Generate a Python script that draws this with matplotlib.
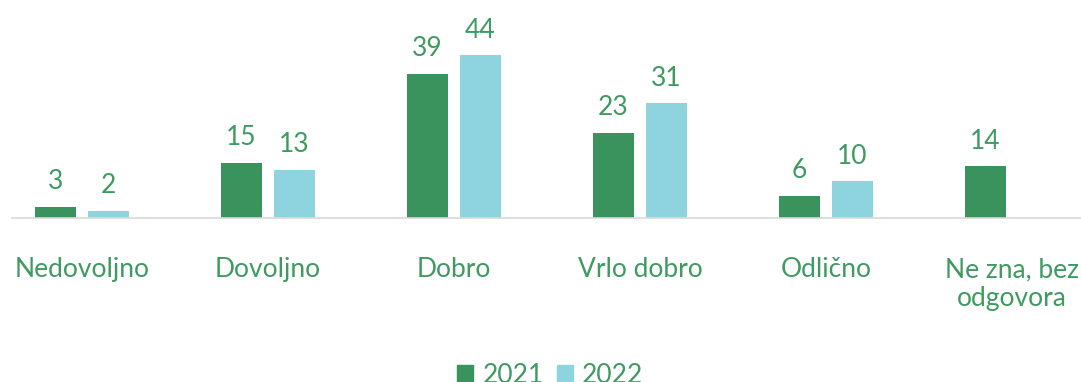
import numpy as np
import matplotlib.pyplot as plt
from matplotlib.patches import Patch

categories = ['Nedovoljno', 'Dovoljno', 'Dobro', 'Vrlo dobro', 'Odlično', 'Ne zna, bez\nodgovora']
years = ['2021', '2022']
values_2021 = [3, 15, 39, 23, 6, 14]
values_2022 = [2, 13, 44, 31, 10, None]

green = '#3a935c'
light = '#8dd4de'
text_green = '#3e9a60'

plt.rcParams['font.family'] = ['Lato', 'DejaVu Sans']

fig = plt.figure(figsize=(10.81, 3.82), dpi=100)
ax = fig.add_axes([12 / 1081, 164 / 382, 1 - 12 / 1081, 218 / 382])

x = np.arange(len(categories))
w = 0.22
off = 0.142

for i, (v1, v2) in enumerate(zip(values_2021, values_2022)):
    ax.bar(x[i] - off, v1, w, color=green)
    ax.annotate(str(v1), (x[i] - off, v1), xytext=(0, 9), textcoords='offset points',
                ha='center', va='bottom', fontsize=19, color=text_green)
    if v2 is None:
        continue
    ax.bar(x[i] + off, v2, w, color=light)
    ax.annotate(str(v2), (x[i] + off, v2), xytext=(0, 9), textcoords='offset points',
                ha='center', va='bottom', fontsize=19, color=text_green)

ax.set_xlim(-70 / 186, 999 / 186)
ax.set_ylim(0, 218 / 3.7)

ax.set_xticks(x)
ax.set_xticklabels(categories, fontsize=19, color=text_green, linespacing=1.2)
ax.tick_params(axis='x', length=0, pad=28)
ax.set_yticks([])
for s in ['top', 'right', 'left']:
    ax.spines[s].set_visible(False)
ax.spines['bottom'].set_color('#d9d9d9')
ax.spines['bottom'].set_linewidth(1.2)

handles = [Patch(color=green, label=years[0]), Patch(color=light, label=years[1])]
fig.legend(handles=handles, loc='upper center', bbox_to_anchor=(0.509, 30 / 382), ncol=2,
           frameon=False, fontsize=19, labelcolor=text_green, handlelength=0.6,
           handleheight=0.6, handletextpad=0.35, columnspacing=0.5, borderaxespad=0)

fig.savefig('out.png', dpi=100)
